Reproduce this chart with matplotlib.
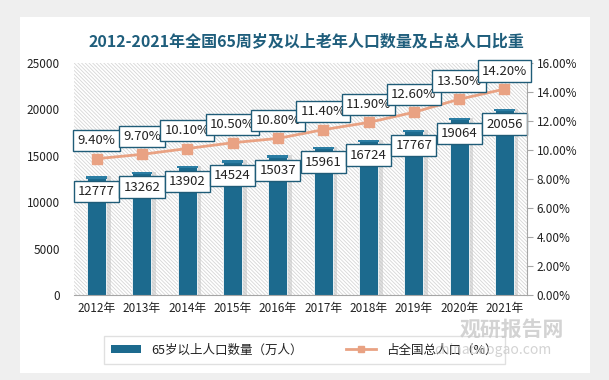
import matplotlib
matplotlib.use("Agg")
import matplotlib.pyplot as plt
from matplotlib.patches import Rectangle
from matplotlib.lines import Line2D
from matplotlib.ticker import FuncFormatter

plt.rcParams['font.family'] = ['Noto Sans CJK SC', 'DejaVu Sans']
plt.rcParams['hatch.linewidth'] = 0.6

# ----- data -----
years = ["2012年", "2013年", "2014年", "2015年", "2016年",
         "2017年", "2018年", "2019年", "2020年", "2021年"]
pop_65 = [12777, 13262, 13902, 14524, 15037, 15961, 16724, 17767, 19064, 20056]
share_pct = [9.40, 9.70, 10.10, 10.50, 10.80, 11.40, 11.90, 12.60, 13.50, 14.20]

BAR = "#1C6A8E"
LINE = "#E9A283"
BOX_EDGE = "#1F5C78"
TEXT = "#222222"

fig = plt.figure(figsize=(6.09, 3.8), dpi=100)
fig.patch.set_facecolor("#EFEFEF")
# white card behind everything
fig.patches.append(Rectangle((0.033, 0.018), 0.936, 0.937, transform=fig.transFigure,
                             facecolor="white", edgecolor="none", zorder=-10))

ax = fig.add_axes([0.1215, 0.2237, 0.744, 0.6105])
ax.set_facecolor("white")
# diagonal hatched plot background
ax.add_patch(Rectangle((0, 0), 1, 1, transform=ax.transAxes, facecolor="white",
                       edgecolor="#D6D6D6", linewidth=0, hatch="\\" * 9, zorder=0))

x = list(range(len(years)))
# soft shadow + bars + lighter top cap
ax.bar([i + 0.05 for i in x], pop_65, width=0.52, color="#C4C4C4", alpha=0.55, zorder=1)
ax.bar(x, pop_65, width=0.42, color=BAR, edgecolor="white", linewidth=0.6, zorder=2)
ax.bar(x, [250] * len(x), bottom=[v - 250 for v in pop_65], width=0.46,
       color="#2B7DA3", zorder=2)

ax.set_xlim(-0.5, len(years) - 0.5)
ax.set_ylim(0, 25000)
ax.set_yticks(range(0, 25001, 5000))
ax.set_xticks(x)
ax.set_xticklabels(years)
for s in ["top", "right", "left"]:
    ax.spines[s].set_visible(False)
ax.spines["bottom"].set_color("#A6A6A6")
ax.tick_params(axis="y", length=0, labelsize=8.5, colors=TEXT, pad=10)
ax.tick_params(axis="x", length=0, labelsize=8.5, colors=TEXT, pad=5)

ax2 = ax.twinx()
ax2.plot(x, share_pct, color=LINE, linewidth=2, marker="s", markersize=6.5, zorder=4)
ax2.set_ylim(0, 16)
ax2.set_yticks(range(0, 17, 2))
ax2.yaxis.set_major_formatter(FuncFormatter(lambda v, p: f"{v:.2f}%"))
for s in ["top", "left", "bottom"]:
    ax2.spines[s].set_visible(False)
ax2.spines["right"].set_color("#A6A6A6")
ax2.tick_params(axis="y", length=4, color="#A6A6A6", labelsize=8.5, colors=TEXT, pad=3)

for i, v in enumerate(pop_65):
    ax.annotate(str(v), (i, v), xytext=(0, -11), textcoords="offset points",
                ha="center", va="center", fontsize=9.5, color=TEXT, zorder=5,
                bbox=dict(boxstyle="square,pad=0.32", fc="white", ec=BOX_EDGE, lw=1))
for i, v in enumerate(share_pct):
    ax2.annotate(f"{v:.2f}%", (i, v), xytext=(0, 13), textcoords="offset points",
                 ha="center", va="center", fontsize=9.5, color=TEXT, zorder=5,
                 bbox=dict(boxstyle="square,pad=0.32", fc="white", ec=BOX_EDGE, lw=1))

fig.text(0.503, 0.892, "2012-2021年全国65周岁及以上老年人口数量及占总人口比重",
         ha="center", va="center", fontsize=11.5, fontweight="bold", color="#1F5E7C")

# watermark
fig.text(0.84, 0.134, "观研报告网", ha="center", va="center", fontsize=15,
         fontweight="bold", color="#C8C8C8", alpha=0.8, zorder=6)
fig.text(0.81, 0.08, "chinabaogao.com", ha="center", va="center", fontsize=10,
         color="#C8C8C8", alpha=0.8, zorder=6)

handles = [Rectangle((0, 0), 1, 1, facecolor=BAR),
           Line2D([0], [0], color=LINE, lw=2, marker="s", markersize=5)]
leg = fig.legend(handles, ["65岁以上人口数量（万人）", "占全国总人口（%）"],
                 loc="center", bbox_to_anchor=(0.5, 0.079), ncol=2, fontsize=9,
                 frameon=True, fancybox=False, edgecolor="#D9D9D9",
                 columnspacing=3.5, handlelength=2.4, borderpad=0.6)
for t in leg.get_texts():
    t.set_color(TEXT)

fig.savefig("out.png", dpi=100, facecolor=fig.get_facecolor())
